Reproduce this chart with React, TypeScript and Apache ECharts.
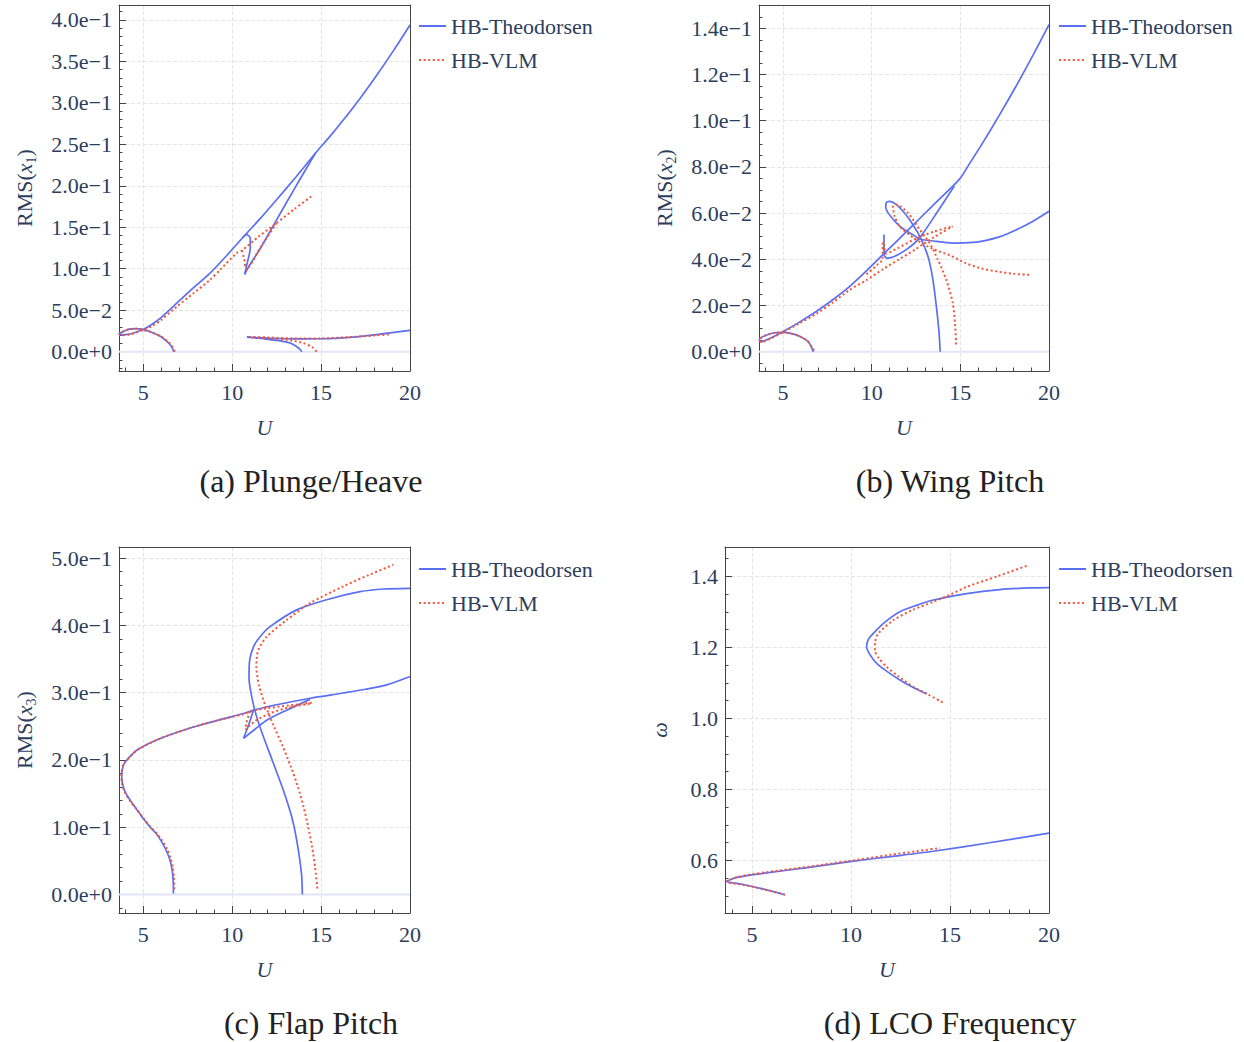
import React, { useEffect, useRef } from 'react';
import * as echarts from 'echarts';

type P = [number, number][];

const SERIES_NAMES = ['HB-Theodorsen', 'HB-VLM'];
const CAPTIONS = ['(a) Plunge/Heave', '(b) Wing Pitch', '(c) Flap Pitch', '(d) LCO Frequency'];
const X_RANGE: [number, number] = [3.64, 20];
const Y_RANGES: [number, number][] = [[-0.0233, 0.418], [-0.00835, 0.1501], [-0.0274, 0.5164], [0.4522, 1.4823]];
const Y_STEPS = [0.05, 0.02, 0.1, 0.2];

// trivial (zero-amplitude) branch
const ZERO_LINE: P = [[3.64, 0], [20, 0]];

// (a) Plunge/Heave RMS(x1)
const aTheo1: P = [[6.72, 0], [6.6, 0.006], [6.3, 0.013], [5.96, 0.0185], [5.4, 0.024], [5.0, 0.0268], [4.6, 0.0278], [4.2, 0.0272], [3.9, 0.0245], [3.7, 0.0222], [3.66, 0.021], [3.75, 0.0203], [4.27, 0.0213], [4.6, 0.0235], [5.0, 0.0268], [5.5, 0.033], [6.0, 0.041], [6.9, 0.0587], [7.8, 0.0765], [8.76, 0.0948], [9.7, 0.116], [10.45, 0.134], [10.83, 0.143], [11.6, 0.161], [12.51, 0.1835], [13.6, 0.211], [14.76, 0.2413], [15.5, 0.2596], [16.25, 0.2793], [17.2, 0.3057], [18.13, 0.3333], [19.1, 0.3639], [20, 0.3939]];
const aTheo2: P = [[10.6, 0.138], [10.83, 0.141], [11.02, 0.137], [11.02, 0.125], [10.85, 0.107], [10.7, 0.093], [10.92, 0.102], [11.6, 0.125], [12.5, 0.159], [13.6, 0.2], [14.7, 0.24]];
const aTheo3: P = [[13.92, 0], [13.8, 0.003], [13.6, 0.0065], [13.26, 0.0104], [12.8, 0.0128], [12.13, 0.0145], [11.5, 0.0162], [10.83, 0.0175], [12, 0.0164], [13.5, 0.0154], [15, 0.0156], [16.25, 0.0166], [18, 0.0203], [20, 0.0257]];
const aVlm1: P = [[6.78, 0], [6.65, 0.006], [6.35, 0.013], [5.95, 0.019], [5.45, 0.0235], [5.0, 0.0262], [4.6, 0.0275], [4.2, 0.027], [3.9, 0.0245], [3.7, 0.0222], [3.66, 0.021], [3.78, 0.0199], [4.2, 0.0205], [4.6, 0.023], [5.0, 0.0262], [5.5, 0.031], [6.0, 0.038], [6.9, 0.0546], [7.8, 0.07], [8.76, 0.0867], [9.33, 0.0988], [10.26, 0.119], [10.55, 0.122], [11.5, 0.139], [12.5, 0.155], [13.5, 0.172], [14.57, 0.189]];
const aVlm2: P = [[10.55, 0.122], [10.68, 0.112], [10.79, 0.099], [11.6, 0.126], [12.5, 0.155]];
const aVlm3: P = [[14.75, 0], [14.5, 0.0055], [14.0, 0.0104], [13.3, 0.0135], [12.5, 0.0152], [11.6, 0.0168], [11.0, 0.0178], [12.0, 0.0172], [13.5, 0.016], [15, 0.016], [16.5, 0.0175], [18, 0.0195], [18.9, 0.021]];

// (b) Wing Pitch RMS(x2)
const bTheo1: P = [[6.7, 0], [6.6, 0.002], [6.4, 0.0045], [5.96, 0.0066], [5.5, 0.0078], [5.0, 0.0084], [4.5, 0.0082], [4.0, 0.007], [3.7, 0.0058], [3.66, 0.005], [3.75, 0.0043], [4.27, 0.0058], [5.0, 0.0087], [5.9, 0.0127], [6.89, 0.0175], [7.8, 0.0225], [8.76, 0.0283], [9.7, 0.035], [10.63, 0.042], [12.0, 0.0523], [13.5, 0.0637], [14.94, 0.0746], [15.5, 0.0812], [16.25, 0.0903], [17.2, 0.1024], [18.13, 0.1148], [19.1, 0.1284], [20, 0.1416]];
const bTheo2: P = [[10.69, 0.0507], [10.69, 0.046], [10.7, 0.042], [10.85, 0.0405], [11.2, 0.041], [11.95, 0.0442], [12.7, 0.0493], [13.7, 0.0605], [14.66, 0.0717]];
const bTheo3: P = [[20, 0.0608], [19.1, 0.0565], [18.13, 0.0527], [17.2, 0.0497], [16.25, 0.0479], [15.5, 0.0472], [14.76, 0.047], [13.63, 0.0478], [12.7, 0.0488], [12.32, 0.0507], [11.8, 0.053], [11.39, 0.0558], [10.92, 0.0601], [10.79, 0.0625], [10.82, 0.0645], [11.0, 0.0651], [11.39, 0.0637], [11.8, 0.0605], [12.13, 0.0572], [12.7, 0.05], [13.17, 0.0413], [13.45, 0.0312], [13.67, 0.018], [13.8, 0.008], [13.86, 0]];
const bVlm1: P = [[6.75, 0.0005], [6.62, 0.002], [6.4, 0.0045], [5.96, 0.0065], [5.5, 0.0077], [5.0, 0.0083], [4.5, 0.0081], [4.0, 0.007], [3.7, 0.0058], [3.66, 0.005], [3.78, 0.0042], [4.27, 0.0056], [5.0, 0.0084], [5.9, 0.0122], [6.89, 0.0165], [7.8, 0.0213], [8.76, 0.0268], [9.7, 0.031], [10.63, 0.0357], [11.5, 0.0398], [12.5, 0.0445], [13.5, 0.0495], [14.57, 0.0543]];
const bVlm2: P = [[9.7, 0.0335], [10.3, 0.0375], [10.6, 0.04], [10.63, 0.0475], [10.7, 0.046], [10.8, 0.0425], [11.5, 0.045], [12.5, 0.049], [13.5, 0.052], [14.57, 0.0543]];
const bVlm3: P = [[18.88, 0.0333], [18.0, 0.0337], [17.19, 0.0346], [16.2, 0.036], [15.31, 0.0383], [14.38, 0.0418], [13.44, 0.0445], [12.51, 0.0485], [11.57, 0.0543], [11.29, 0.0587], [11.2, 0.063], [11.39, 0.0637], [12.04, 0.0601], [12.7, 0.0529], [13.26, 0.0471], [13.73, 0.0399], [14.2, 0.0312], [14.57, 0.0211], [14.7, 0.012], [14.76, 0.003]];

// (c) Flap Pitch RMS(x3)
const cTheo1: P = [[6.7, 0.0015], [6.69, 0.018], [6.64, 0.034], [6.52, 0.05], [6.32, 0.064], [6.05, 0.078], [5.72, 0.091], [5.38, 0.1006], [5.0, 0.113], [4.6, 0.128], [4.25, 0.141], [3.98, 0.153], [3.83, 0.165], [3.79, 0.178], [3.86, 0.19], [3.99, 0.197], [4.65, 0.2147], [5.96, 0.232], [7.83, 0.249], [9.5, 0.261], [10.64, 0.269], [11.2, 0.274], [12.5, 0.282], [14.38, 0.2917], [16.25, 0.2995], [17.5, 0.305], [18.69, 0.3115], [20, 0.324]];
const cTheo2: P = [[11.2, 0.274], [10.9, 0.25], [10.64, 0.232], [11.3, 0.246], [11.94, 0.259], [13.07, 0.274], [14.38, 0.29]];
const cTheo3: P = [[13.95, 0], [13.9, 0.031], [13.63, 0.081], [13.35, 0.1155], [12.88, 0.155], [12.32, 0.195], [11.76, 0.2345], [11.38, 0.264], [11.1, 0.294], [10.95, 0.322], [10.98, 0.347], [11.2, 0.368], [11.57, 0.383], [12.13, 0.398], [13.63, 0.423], [15.31, 0.438], [17.19, 0.45], [18.5, 0.454], [20, 0.455]];
const cVlm1: P = [[6.75, 0.008], [6.73, 0.025], [6.67, 0.04], [6.54, 0.054], [6.33, 0.068], [6.05, 0.081], [5.72, 0.092], [5.38, 0.1015], [5.0, 0.1135], [4.6, 0.1275], [4.24, 0.14], [3.96, 0.152], [3.81, 0.165], [3.77, 0.178], [3.85, 0.19], [3.99, 0.197], [4.65, 0.2145], [5.96, 0.232], [7.83, 0.249], [9.5, 0.261], [10.64, 0.268], [11.0, 0.272], [12.0, 0.277], [13.2, 0.281], [14.48, 0.285]];
const cVlm2: P = [[11.0, 0.272], [10.8, 0.255], [10.75, 0.245], [11.3, 0.258], [12.2, 0.27], [13.2, 0.278], [14.48, 0.284]];
const cVlm3: P = [[14.79, 0.009], [14.67, 0.04], [14.5, 0.07], [14.28, 0.1], [14.02, 0.13], [13.7, 0.16], [13.3, 0.19], [12.85, 0.22], [12.35, 0.25], [11.88, 0.28], [11.52, 0.31], [11.36, 0.338], [11.46, 0.3625], [11.94, 0.383], [13.07, 0.408], [14.38, 0.433], [16.25, 0.458], [17.7, 0.475], [19.06, 0.49]];

// (d) LCO Frequency omega
const dTheo1: P = [[13.82, 1.0685], [13.1, 1.088], [12.47, 1.108], [11.8, 1.133], [11.3, 1.155], [10.95, 1.18], [10.79, 1.2014], [10.88, 1.222], [11.13, 1.239], [11.7, 1.27], [12.47, 1.3], [13.3, 1.318], [14.16, 1.333], [15.84, 1.351], [17.53, 1.3625], [19.0, 1.367], [20, 1.368]];
const dTheo2: P = [[6.67, 0.5037], [5.5, 0.521], [4.5, 0.533], [3.72, 0.541], [4.3, 0.553], [5.74, 0.565], [7.8, 0.58], [9.95, 0.597], [12, 0.611], [14.16, 0.626], [17, 0.65], [20, 0.677]];
const dVlm1: P = [[14.63, 1.045], [13.9, 1.067], [13.15, 1.089], [12.4, 1.118], [11.8, 1.145], [11.4, 1.17], [11.21, 1.19], [11.22, 1.215], [11.38, 1.239], [12.14, 1.2764], [13.1, 1.305], [14.16, 1.328], [15.0, 1.348], [15.84, 1.37], [17.4, 1.4], [18.96, 1.431]];
const dVlm2: P = [[6.67, 0.5037], [5.5, 0.52], [4.5, 0.532], [3.72, 0.54], [4.3, 0.554], [5.74, 0.567], [7.8, 0.582], [9.95, 0.599], [12, 0.616], [13.3, 0.626], [14.5, 0.635]];

const THEO = [[aTheo1, aTheo2, aTheo3], [bTheo1, bTheo2, bTheo3], [cTheo1, cTheo2, cTheo3], [dTheo1, dTheo2]];
const VLM = [[aVlm1, aVlm2, aVlm3], [bVlm1, bVlm2, bVlm3], [cVlm1, cVlm2, cVlm3], [dVlm1, dVlm2]];

const BLUE = '#5b6ff2';
const RED = '#f2553a';
const TXT = '#2c3d5c';
const AXIS = '#444';
const FONT = '"Liberation Serif", "Times New Roman", serif';

const GRIDS = [
  { left: 119, top: 5, width: 291, height: 366 },
  { left: 759, top: 5, width: 290, height: 366 },
  { left: 119, top: 547, width: 291, height: 366 },
  { left: 725, top: 547, width: 324, height: 366 },
];
const Y_SPLIT = [8, 8, 5, 5];
const Y_MINOR = [5, 4, 5, 4];
const Y_NAMES = ['{r|RMS(}{i|x}{s|1}{r|)}', '{r|RMS(}{i|x}{s|2}{r|)}', '{r|RMS(}{i|x}{s|3}{r|)}', '{i|ω}'];
const Y_NAMEGAP = [81, 81, 81, 52];
const LEGEND_POS = [[413, 10], [1053, 10], [413, 553], [1053, 553]];
const CAPTION_POS = [[311, 481], [950, 481], [311, 1023], [950, 1023]];

const isMultiple = (v: number, step: number) => Math.abs(v / step - Math.round(v / step)) < 1e-6;
const fmtExp = (v: number) => {
  if (Math.abs(v) < 1e-12) return '0.0e+0';
  return v.toExponential(1).replace('-', '−');
};

export default function App() {
  const ref = useRef<HTMLDivElement>(null);
  useEffect(() => {
    if (!ref.current) return;
    const chart = echarts.init(ref.current, undefined, { renderer: 'svg' });
    const rich = {
      r: { fontSize: 22, fontFamily: FONT, color: TXT, lineHeight: 28 },
      i: { fontSize: 22, fontFamily: FONT, color: TXT, fontStyle: 'italic', lineHeight: 28 },
      s: { fontSize: 14, fontFamily: FONT, color: TXT, lineHeight: 28, verticalAlign: 'bottom' },
    };
    const xAxis: any[] = GRIDS.map((_, i) => ({
      type: 'value',
      gridIndex: i,
      min: X_RANGE[0],
      max: X_RANGE[1],
      splitNumber: 3,
      name: 'U',
      nameLocation: 'middle',
      nameGap: 45,
      nameTextStyle: { fontFamily: FONT, fontSize: 22, fontStyle: 'italic', color: TXT },
      axisLine: { show: true, onZero: false, lineStyle: { color: AXIS, width: 1 } },
      axisTick: { show: true, inside: true, length: 7, lineStyle: { color: AXIS } },
      minorTick: { show: true, splitNumber: 5, length: 3.5, lineStyle: { color: AXIS } },
      splitLine: { show: true, lineStyle: { color: '#e4e4e4', type: 'dashed' } },
      axisLabel: {
        fontFamily: FONT, fontSize: 22, color: TXT, margin: 10,
        formatter: (v: number) => (isMultiple(v, 5) ? String(Math.round(v)) : ''),
      },
    }));
    const yAxis: any[] = GRIDS.map((_, i) => ({
      type: 'value',
      gridIndex: i,
      min: Y_RANGES[i][0],
      max: Y_RANGES[i][1],
      splitNumber: Y_SPLIT[i],
      name: Y_NAMES[i],
      nameLocation: 'middle',
      nameGap: Y_NAMEGAP[i],
      nameRotate: 90,
      nameTextStyle: { fontFamily: FONT, fontSize: 22, color: TXT, rich },
      axisLine: { show: true, onZero: false, lineStyle: { color: AXIS, width: 1 } },
      axisTick: { show: true, inside: true, length: 7, lineStyle: { color: AXIS } },
      minorTick: { show: true, splitNumber: Y_MINOR[i], length: 3.5, lineStyle: { color: AXIS } },
      splitLine: { show: true, lineStyle: { color: '#e4e4e4', type: 'dashed' } },
      axisLabel: {
        fontFamily: FONT, fontSize: 22, color: TXT, margin: 7,
        formatter: (v: number) => {
          if (!isMultiple(v, Y_STEPS[i])) return '';
          return i === 3 ? v.toFixed(1) : fmtExp(v);
        },
      },
    }));
    // frame: top and right edges as bare axis lines
    GRIDS.forEach((_, i) => {
      xAxis.push({
        type: 'value', gridIndex: i, position: 'top', min: X_RANGE[0], max: X_RANGE[1], z: 5,
        axisLine: { show: true, onZero: false, lineStyle: { color: AXIS, width: 1 } },
        axisTick: { show: false }, axisLabel: { show: false }, splitLine: { show: false },
      });
      yAxis.push({
        type: 'value', gridIndex: i, position: 'right', min: Y_RANGES[i][0], max: Y_RANGES[i][1], z: 5,
        axisLine: { show: true, onZero: false, lineStyle: { color: AXIS, width: 1 } },
        axisTick: { show: false }, axisLabel: { show: false }, splitLine: { show: false },
      });
    });
    const series: any[] = [];
    for (let i = 0; i < 4; i++) {
      if (i < 3) {
        series.push({
          type: 'line', name: 'zero', xAxisIndex: i, yAxisIndex: i, data: ZERO_LINE,
          symbol: 'none', silent: true, lineStyle: { color: '#e2e5f8', width: 2 },
        });
      }
      THEO[i].forEach((d) => series.push({
        type: 'line', name: SERIES_NAMES[0], xAxisIndex: i, yAxisIndex: i, data: d,
        symbol: 'none', smooth: 0.25, lineStyle: { color: BLUE, width: 1.7 }, itemStyle: { color: BLUE },
      }));
      VLM[i].forEach((d) => series.push({
        type: 'line', name: SERIES_NAMES[1], xAxisIndex: i, yAxisIndex: i, data: d,
        symbol: 'none', smooth: 0.25, lineStyle: { color: RED, width: 2, type: [2, 2.6] }, itemStyle: { color: RED },
      }));
    }
    const option: any = {
      animation: false,
      backgroundColor: '#ffffff',
      grid: GRIDS.map((g) => ({ ...g })),
      xAxis,
      yAxis,
      legend: LEGEND_POS.map(([l, t]) => ({
        left: l, top: t, orient: 'vertical', data: SERIES_NAMES, selectedMode: false,
        itemWidth: 27, itemHeight: 14, itemGap: 12,
        itemStyle: { opacity: 0 },
        textStyle: { fontFamily: FONT, fontSize: 22, color: TXT },
      })),
      series,
      graphic: CAPTIONS.map((c, i) => ({
        type: 'text', x: CAPTION_POS[i][0], y: CAPTION_POS[i][1],
        style: {
          text: c, fontFamily: FONT, fontSize: 32, fill: '#222',
          align: 'center', verticalAlign: 'middle', textAlign: 'center', textVerticalAlign: 'middle',
        },
      })),
    };
    chart.setOption(option);
    return () => chart.dispose();
  }, []);
  return <div ref={ref} style={{ position: 'fixed', left: 0, top: 0, width: 1244, height: 1042 }} />;
}
